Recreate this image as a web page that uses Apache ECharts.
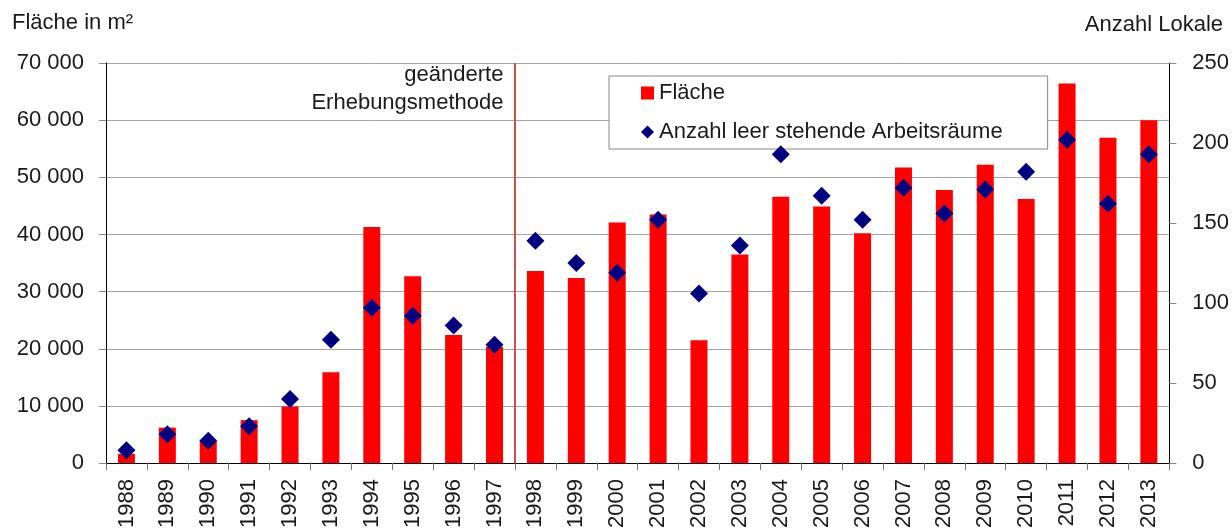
<!DOCTYPE html>
<html>
<head>
<meta charset="utf-8">
<script src="https://cdn.jsdelivr.net/npm/echarts@6/dist/echarts.min.js"></script>
<style>
  html, body { margin: 0; padding: 0; background: #fff; }
  #chart { width: 1232px; height: 531px; }
</style>
</head>
<body>
<div id="chart"></div>
<script>
const years = ['1988', '1989', '1990', '1991', '1992', '1993', '1994', '1995', '1996', '1997',
    '1998', '1999', '2000', '2001', '2002', '2003', '2004', '2005', '2006', '2007',
    '2008', '2009', '2010', '2011', '2012', '2013'];
// Fläche in m2 (left axis)
const flaeche = [1600, 6200, 3800, 7500, 9900, 15900, 41300, 32700, 22400, 20300,
    33600, 32400, 42100, 43500, 21500, 36500, 46600, 44900, 40200, 51700,
    47800, 52200, 46200, 66400, 56900, 60000];
// Anzahl leer stehende Arbeitsräume (right axis)
const anzahl = [8, 18, 14, 23, 40, 77, 97, 92, 86, 74,
    139, 125, 119, 152, 106, 136, 193, 167, 152, 172,
    156, 171, 182, 202, 162, 193];
// break between 1997 and 1998 (category boundary)
const methodBreak = 10;
const methodText = 'geänderte\nErhebungsmethode';

const font = 'Liberation Sans, Arial, sans-serif';
const textColor = '#1a1a1a';
const fmt = v => String(v).replace(/\B(?=(\d{3})+(?!\d))/g, ' ');

const chart = echarts.init(document.getElementById('chart'), null, { renderer: 'canvas' });

const option = {
    animation: false,
    textStyle: { fontFamily: font, color: textColor },
    grid: { left: 106, right: 62, top: 63, bottom: 64 },
    graphic: [
        { type: 'text', left: 12, top: 12, style: { text: 'Fläche in m²', font: '22px ' + font, fill: textColor } },
        { type: 'text', right: 9, top: 14, style: { text: 'Anzahl Lokale', font: '22px ' + font, fill: textColor } }
    ],
    legend: {
        orient: 'vertical',
        left: 609,
        top: 76,
        padding: [6, 45, 6, 32],
        itemGap: 17,
        itemWidth: 13,
        itemHeight: 13,
        borderColor: '#888',
        borderWidth: 1,
        backgroundColor: '#fff',
        textStyle: { fontSize: 22, lineHeight: 22, color: textColor, fontFamily: font },
        data: [
            { name: 'Fläche', icon: 'rect' },
            { name: 'Anzahl leer stehende Arbeitsräume', icon: 'diamond' }
        ]
    },
    xAxis: [{
        type: 'category',
        data: years,
        axisLine: { lineStyle: { color: '#000', width: 1 } },
        axisTick: { show: true, length: 7, lineStyle: { color: '#777' } },
        axisLabel: { rotate: 90, margin: 16, fontSize: 22, color: textColor, fontFamily: font }
    }, {
        type: 'value',
        min: 0,
        max: years.length,
        show: false
    }],
    yAxis: [{
        type: 'value',
        min: 0,
        max: 70000,
        interval: 10000,
        axisLine: { show: true, lineStyle: { color: '#000' } },
        axisTick: { show: true, length: 7, lineStyle: { color: '#888' } },
        axisLabel: { margin: 22, fontSize: 22, color: textColor, fontFamily: font, formatter: fmt },
        splitLine: { show: true, lineStyle: { color: '#a6a6a6', width: 1 } }
    }, {
        type: 'value',
        min: 0,
        max: 250,
        interval: 50,
        axisLine: { show: true, lineStyle: { color: '#000' } },
        axisTick: { show: true, length: 7, lineStyle: { color: '#888' } },
        axisLabel: { margin: 23, fontSize: 22, color: textColor, fontFamily: font },
        splitLine: { show: false }
    }],
    series: [{
        name: 'Fläche',
        type: 'bar',
        data: flaeche,
        barWidth: 17,
        itemStyle: { color: '#ff0000' }
    }, {
        name: 'Anzahl leer stehende Arbeitsräume',
        type: 'scatter',
        yAxisIndex: 1,
        data: anzahl,
        symbol: 'diamond',
        symbolSize: [18, 18],
        itemStyle: { color: '#000080', opacity: 1 },
        z: 5
    }, {
        name: 'break',
        type: 'line',
        xAxisIndex: 1,
        yAxisIndex: 0,
        symbol: 'circle',
        symbolSize: 1,
        showSymbol: true,
        silent: true,
        itemStyle: { color: 'rgba(0,0,0,0)' },
        lineStyle: { color: '#c0504d', width: 2 },
        data: [
            [methodBreak, 0],
            {
                value: [methodBreak, 70000],
                label: {
                    show: true,
                    position: 'left',
                    distance: 11,
                    offset: [0, 26],
                    align: 'right',
                    formatter: methodText,
                    fontSize: 22,
                    lineHeight: 28,
                    color: textColor,
                    fontFamily: font
                }
            }
        ],
        z: 1
    }]
};

chart.setOption(option);
</script>
</body>
</html>
